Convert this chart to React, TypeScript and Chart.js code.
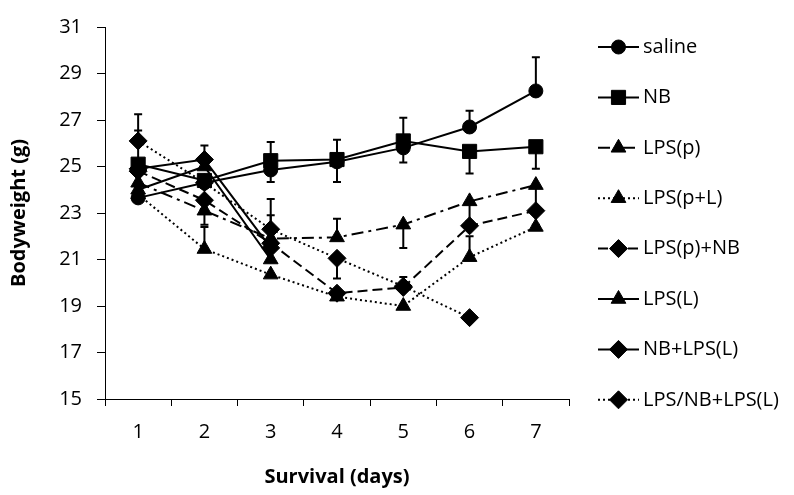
import React, { useEffect, useRef } from 'react';
import { Chart, registerables } from 'chart.js';

Chart.register(...registerables);

const FONT = 'Open Sans';

const days = ['1', '2', '3', '4', '5', '6', '7'];
const yTicks = [15, 17, 19, 21, 23, 25, 27, 29, 31];

const saline = [23.65, 24.3, 24.85, 25.2, 25.8, 26.7, 28.25];
const nb = [25.1, 24.4, 25.25, 25.3, 26.1, 25.65, 25.85];
const lpsP = [24.3, 23.1, 21.9, 21.95, 22.5, 23.5, 24.2];
const lpsPL = [23.8, 21.45, 20.35, 19.4, 19.0, 21.1, 22.4];
const lpsPNb = [24.8, 23.55, 21.7, 19.55, 19.8, 22.45, 23.1];
const lpsL = [24.0, 25.0, 21.0, null, null, null, null];
const nbLpsL = [24.9, 25.3, 21.5, null, null, null, null];
const lpsNbLpsL = [26.1, 24.3, 22.3, 21.05, 19.85, 18.5, null];

// error bars (plus / minus), null = not shown
const salinePlus = [null, null, 1.2, 0.95, 1.3, 0.7, 1.45];
const nbMinus = [null, null, 0.92, 0.97, 0.93, 0.95, 0.95];
const lpsPPlus = [null, null, 1.0, 0.8, null, null, null];
const lpsPMinus = [null, 0.6, null, null, 1.0, 0.85, 1.0];
const lpsPLPlus = [null, 0.95, null, null, null, 0.9, null];
const lpsPNbPlus = [null, null, null, null, 0.45, null, null];
const lpsPNbMinus = [null, null, null, null, null, null, 0.6];
const nbLpsLPlus = [1.65, 0.6, null, null, null, null, null];
const lpsNbLpsLPlus = [1.15, null, 1.3, null, null, null, null];
const lpsNbLpsLMinus = [null, null, null, 0.87, null, null, null];

const seriesNames = ['saline', 'NB', 'LPS(p)', 'LPS(p+L)', 'LPS(p)+NB', 'LPS(L)', 'NB+LPS(L)', 'LPS/NB+LPS(L)'];

const DOT = [2, 3];
const DASH = [10, 5];
const DASHDOT = [12, 5, 3, 5];

type S = {
  data: (number | null)[];
  plus: (number | null)[] | null;
  minus: (number | null)[] | null;
  dash: number[];
  style: string;
  radius: number;
};

const series: S[] = [
  { data: saline, plus: salinePlus, minus: null, dash: [], style: 'circle', radius: 7 },
  { data: nb, plus: null, minus: nbMinus, dash: [], style: 'rect', radius: 10 },
  { data: lpsP, plus: lpsPPlus, minus: lpsPMinus, dash: DASHDOT, style: 'triangle', radius: 8.5 },
  { data: lpsPL, plus: lpsPLPlus, minus: null, dash: DOT, style: 'triangle', radius: 8.5 },
  { data: lpsPNb, plus: lpsPNbPlus, minus: lpsPNbMinus, dash: DASH, style: 'rectRot', radius: 9 },
  { data: lpsL, plus: null, minus: null, dash: [], style: 'triangle', radius: 8.5 },
  { data: nbLpsL, plus: nbLpsLPlus, minus: null, dash: [], style: 'rectRot', radius: 9 },
  { data: lpsNbLpsL, plus: lpsNbLpsLPlus, minus: lpsNbLpsLMinus, dash: DOT, style: 'rectRot', radius: 9 },
];

function drawMarker(ctx: CanvasRenderingContext2D, style: string, x: number, y: number, r: number) {
  ctx.beginPath();
  if (style === 'circle') {
    ctx.arc(x, y, r, 0, Math.PI * 2);
  } else if (style === 'rect') {
    const s = r * Math.SQRT1_2;
    ctx.rect(x - s, y - s, 2 * s, 2 * s);
  } else if (style === 'rectRot') {
    ctx.moveTo(x, y - r);
    ctx.lineTo(x + r, y);
    ctx.lineTo(x, y + r);
    ctx.lineTo(x - r, y);
    ctx.closePath();
  } else if (style === 'triangle') {
    const a = (2 * Math.PI) / 3;
    ctx.moveTo(x, y - r);
    ctx.lineTo(x + Math.sin(a) * r, y - Math.cos(a) * r);
    ctx.lineTo(x + Math.sin(2 * a) * r, y - Math.cos(2 * a) * r);
    ctx.closePath();
  }
  ctx.fill();
  ctx.stroke();
}

const errorBarPlugin = {
  id: 'errorBars',
  beforeDatasetsDraw(chart: any) {
    const ctx: CanvasRenderingContext2D = chart.ctx;
    const yScale = chart.scales.y;
    ctx.save();
    ctx.strokeStyle = '#000';
    ctx.lineWidth = 2;
    ctx.setLineDash([]);
    series.forEach((s, i) => {
      const meta = chart.getDatasetMeta(i);
      s.data.forEach((v, j) => {
        if (v == null) return;
        const pt = meta.data[j];
        if (!pt) return;
        const x = pt.x;
        const y0 = pt.y;
        const ends: number[] = [];
        if (s.plus && s.plus[j] != null) ends.push(v + (s.plus[j] as number));
        if (s.minus && s.minus[j] != null) ends.push(v - (s.minus[j] as number));
        ends.forEach((e) => {
          const y1 = yScale.getPixelForValue(e);
          ctx.beginPath();
          ctx.moveTo(x, y0);
          ctx.lineTo(x, y1);
          ctx.moveTo(x - 4, y1);
          ctx.lineTo(x + 4, y1);
          ctx.stroke();
        });
      });
    });
    ctx.restore();
  },
};

const legendPlugin = {
  id: 'customLegend',
  afterDraw(chart: any) {
    const ctx: CanvasRenderingContext2D = chart.ctx;
    ctx.save();
    const x0 = 598;
    const x1 = 639;
    const tx = 643;
    series.forEach((s, i) => {
      const y = 47 + i * 50.4;
      ctx.strokeStyle = '#000';
      ctx.fillStyle = '#000';
      ctx.lineWidth = 2;
      ctx.setLineDash(s.dash);
      ctx.beginPath();
      ctx.moveTo(x0, y);
      ctx.lineTo(x1, y);
      ctx.stroke();
      ctx.setLineDash([]);
      ctx.lineWidth = 1;
      drawMarker(ctx, s.style, (x0 + x1) / 2, y, s.radius);
      ctx.font = `20px "${FONT}"`;
      ctx.textBaseline = 'middle';
      ctx.textAlign = 'left';
      ctx.fillText(seriesNames[i], tx, y);
    });
    ctx.restore();
  },
};

export default function App() {
  const ref = useRef<HTMLCanvasElement | null>(null);

  useEffect(() => {
    if (!ref.current) return;
    const chart = new Chart(ref.current, {
      type: 'line',
      data: {
        labels: days,
        datasets: series.map((s, i) => ({
          label: seriesNames[i],
          data: s.data,
          borderColor: '#000',
          backgroundColor: '#000',
          borderWidth: 2,
          borderDash: s.dash,
          pointStyle: s.style as any,
          pointRadius: s.radius,
          pointBackgroundColor: '#000',
          pointBorderColor: '#000',
          pointBorderWidth: 1,
          tension: 0,
          fill: false,
          spanGaps: false,
        })),
      },
      options: {
        responsive: false,
        animation: false,
        layout: { padding: { top: 15, right: 225, left: 0, bottom: 0 } },
        plugins: { legend: { display: false }, tooltip: { enabled: false } },
        scales: {
          x: {
            type: 'category',
            offset: true,
            grid: { offset: true, drawOnChartArea: false, drawTicks: true, tickLength: 7, color: '#000', lineWidth: 1 },
            border: { color: '#000', width: 1 },
            ticks: { color: '#000', font: { family: FONT, size: 20 }, padding: 14 },
            title: {
              display: true,
              text: 'Survival (days)',
              color: '#000',
              font: { family: FONT, size: 20, weight: 'bold' },
              padding: { top: 0, bottom: 6 },
            },
            afterFit(scale: any) {
              scale.height = 96;
            },
          },
          y: {
            min: 15,
            max: 31,
            afterBuildTicks(scale: any) {
              scale.ticks = yTicks.map((v) => ({ value: v }));
            },
            grid: { drawOnChartArea: false, drawTicks: true, tickLength: 8, color: '#000', lineWidth: 1 },
            border: { color: '#000', width: 1 },
            ticks: { color: '#000', font: { family: FONT, size: 20 }, padding: 15 },
            title: {
              display: true,
              text: 'Bodyweight (g)',
              color: '#000',
              font: { family: FONT, size: 20, weight: 'bold' },
              padding: { top: 7, bottom: 0 },
            },
            afterFit(scale: any) {
              scale.width = 105;
            },
          },
        },
      },
      plugins: [errorBarPlugin, legendPlugin],
    });
    return () => chart.destroy();
  }, []);

  return (
    <div style={{ position: 'absolute', left: 0, top: 0, width: 794, height: 495, background: '#fff' }}>
      <canvas ref={ref} width={794} height={495} />
    </div>
  );
}
